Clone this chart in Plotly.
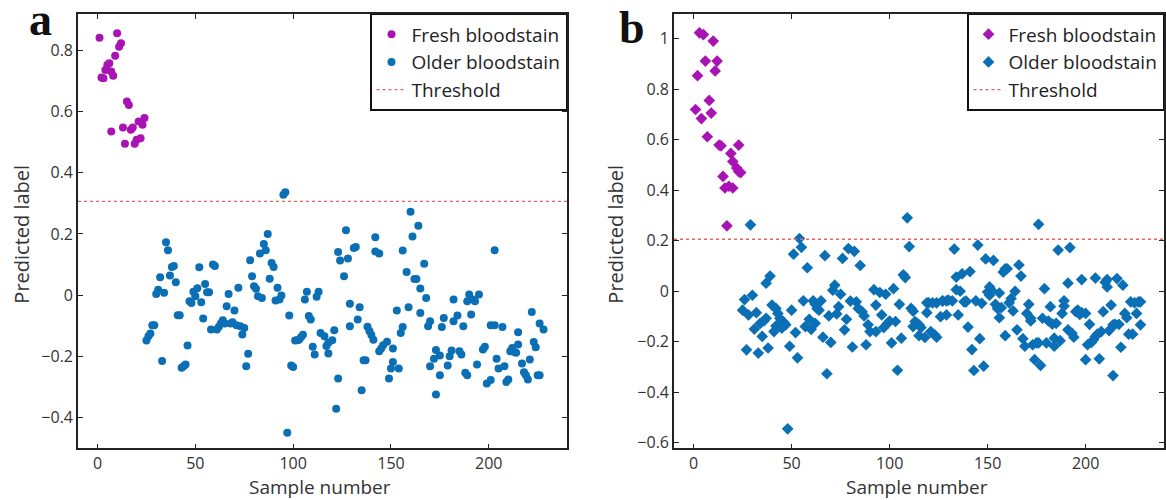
import plotly.graph_objects as go

# ---------------- Panel a data ----------------
fresh_a_x = [1, 2, 3, 4, 5, 6, 7, 7, 8, 9, 10, 11, 12, 13, 14, 15, 16, 17, 18, 19, 20, 21, 22, 23, 24]
fresh_a_y = [0.84, 0.71, 0.708, 0.735, 0.751, 0.757, 0.73, 0.534, 0.716, 0.781, 0.855, 0.811, 0.822,
             0.547, 0.494, 0.632, 0.621, 0.54, 0.547, 0.494, 0.507, 0.567, 0.512, 0.556, 0.578]

older_a_x = [25, 26, 27, 28, 29, 30, 31, 32, 33, 34, 35, 36, 37, 38, 39, 40, 41, 42, 43, 44, 45, 46, 47, 48,
             49, 50, 51, 52, 53, 54, 55, 56, 57, 58, 59, 60, 61, 62, 63, 64, 65, 66, 67, 68, 69, 70, 71, 72,
             73, 74, 75, 76, 77, 78, 79, 80, 81, 82, 83, 84, 85, 86, 87, 88, 89, 90, 91, 92, 93, 94, 95, 96,
             97, 98, 99, 100, 101, 102, 103, 104, 105, 106, 107, 108, 109, 110, 111, 112, 113, 114, 116, 117,
             118, 118, 120, 121, 122, 123, 123, 124, 126, 127, 128, 129, 129, 131, 132, 133, 134, 135, 136,
             137, 138, 139, 140, 141, 142, 142, 144, 144, 145, 146, 148, 149, 150, 151, 151, 153, 154, 155,
             156, 156, 158, 159, 160, 161, 162, 163, 164, 165, 165, 167, 168, 169, 170, 170, 172, 173, 173,
             175, 175, 176, 177, 179, 180, 181, 182, 182, 184, 185, 186, 187, 188, 189, 189, 190, 191, 192,
             193, 194, 195, 197, 198, 199, 201, 201, 203, 203, 204, 205, 207, 208, 209, 210, 211, 212, 213,
             214, 215, 215, 217, 218, 219, 220, 221, 222, 223, 224, 225, 226, 226, 228]
older_a_y = [-0.148, -0.134, -0.125, -0.098, -0.098, 0.004, 0.018, 0.059, -0.215, 0.008, 0.173, 0.147, 0.064,
             0.092, 0.095, 0.042, -0.065, -0.065, -0.237, -0.232, -0.226, -0.164, -0.02, -0.025, 0.011, -0.003,
             0.023, 0.091, -0.023, -0.076, 0.037, 0.01, 0.01, -0.112, 0.1, 0.095, -0.112, -0.103, -0.092, -0.082,
             -0.092, -0.036, 0.004, -0.092, -0.088, -0.05, -0.098, 0.024, -0.101, -0.128, -0.107, -0.232, -0.191,
             0.114, 0.062, 0.029, 0.021, -0.003, 0.136, -0.009, 0.167, 0.147, 0.2, 0.054, 0.105, 0.092, -0.017,
             0.024, -0.014, -0.001, 0.328, 0.336, -0.449, -0.066, -0.229, -0.234, -0.148, -0.147, -0.145, -0.137,
             -0.129, -0.014, 0.011, -0.068, -0.079, -0.168, -0.193, -0.005, 0.011, -0.123, -0.134, -0.166,
             -0.19, -0.155, -0.147, -0.114, -0.37, -0.272, 0.141, 0.113, 0.062, 0.212, 0.12, -0.101, -0.028,
             0.154, 0.157, -0.079, -0.039, -0.31, -0.212, -0.212, -0.103, -0.117, -0.13, -0.145, 0.189, 0.143,
             0.136, -0.183, -0.174, -0.163, -0.152, -0.272, -0.239, -0.174, -0.218, -0.05, -0.239, -0.123,
             -0.104, 0.146, 0.076, -0.039, 0.272, 0.192, 0.053, 0.053, 0.227, -0.058, 0.022, 0.103, -0.009,
             -0.101, -0.085, -0.232, -0.207, -0.179, -0.324, -0.261, -0.197, -0.104, -0.074, -0.229, -0.199,
             -0.18, -0.014, -0.085, -0.066, -0.183, -0.193, -0.101, -0.253, -0.261, -0.02, 0.002, -0.063,
             -0.014, -0.02, -0.226, 0.002, -0.177, -0.168, -0.288, -0.277, -0.098, -0.098, 0.147, -0.207,
             -0.239, -0.104, -0.232, -0.283, -0.275, -0.183, -0.172, -0.185, -0.188, -0.121, -0.161, -0.223,
             -0.251, -0.261, -0.275, -0.21, -0.055, -0.153, -0.17, -0.261, -0.261, -0.092, -0.112]
threshold_a = 0.306

# ---------------- Panel b data ----------------
fresh_b_x = [1, 2, 3, 4, 5, 6, 7, 8, 9, 10, 11, 12, 13, 14, 15, 16, 17, 18, 19, 20, 20, 22, 23, 23, 24]
fresh_b_y = [0.72, 0.854, 1.024, 0.684, 1.017, 0.912, 0.612, 0.756, 0.706, 0.991, 0.873, 0.912, 0.579,
             0.576, 0.455, 0.409, 0.259, 0.416, 0.546, 0.409, 0.514, 0.488, 0.579, 0.474, 0.47]

older_b_x = [25, 26, 27, 28, 29, 30, 31, 32, 33, 34, 35, 36, 37, 37, 38, 39, 40, 41, 42, 42, 43, 44, 44, 45,
             46, 47, 48, 49, 50, 51, 52, 53, 54, 55, 56, 57, 58, 59, 60, 61, 62, 62, 63, 64, 65, 66, 67, 68,
             69, 70, 71, 72, 73, 74, 75, 76, 77, 78, 79, 80, 81, 82, 83, 84, 85, 86, 87, 88, 89, 90, 92, 93,
             93, 95, 96, 97, 98, 99, 100, 101, 102, 103, 104, 105, 106, 107, 108, 109, 110, 111, 112, 112, 113,
             114, 115, 115, 116, 118, 119, 119, 120, 121, 122, 123, 124, 124, 126, 127, 127, 129, 129, 130, 132,
             133, 134, 134, 135, 136, 137, 138, 139, 139, 140, 141, 142, 143, 144, 145, 146, 147, 148, 149, 150,
             151, 151, 152, 153, 154, 155, 156, 156, 157, 158, 159, 159, 160, 161, 162, 163, 164, 165, 166, 167,
             168, 169, 170, 171, 172, 172, 173, 174, 175, 176, 176, 177, 178, 179, 180, 181, 182, 183, 184, 184,
             185, 186, 187, 188, 189, 189, 191, 191, 192, 193, 194, 195, 196, 197, 198, 198, 200, 200, 201, 202,
             203, 204, 205, 205, 206, 207, 208, 209, 210, 211, 211, 212, 213, 214, 214, 215, 216, 217, 218, 219,
             220, 221, 222, 223, 224, 225, 226, 227, 228, 228]
older_b_y = [-0.075, -0.033, -0.232, -0.094, 0.263, -0.016, -0.15, -0.085, -0.245, -0.127, -0.179, -0.117,
             -0.107, 0.032, -0.225, 0.06, -0.055, -0.16, -0.068, -0.138, -0.088, -0.127, -0.107, -0.146, -0.123,
             -0.133, -0.545, -0.218, -0.075, 0.147, -0.164, -0.264, 0.209, 0.174, -0.038, -0.14, 0.093, -0.111,
             -0.151, -0.038, -0.051, -0.127, -0.068, -0.075, -0.038, -0.182, 0.141, -0.327, -0.098, -0.203,
             0.004, 0.024, -0.09, -0.061, -0.012, 0.13, -0.153, -0.111, 0.169, -0.039, -0.221, 0.158, -0.042,
             -0.068, 0.102, -0.081, -0.098, -0.212, -0.133, -0.16, 0.006, -0.055, -0.16, -0.005, -0.094, -0.144,
             -0.012, -0.127, -0.118, -0.205, 0.01, -0.12, -0.313, -0.052, -0.186, 0.065, 0.054, 0.291, 0.177,
             -0.068, -0.079, -0.14, -0.12, -0.127, -0.176, -0.133, -0.144, -0.183, -0.046, -0.085, -0.046, -0.16,
             -0.046, -0.173, -0.182, -0.046, -0.101, -0.038, -0.039, -0.094, -0.038, -0.035, -0.038, 0.167,
             0.006, 0.056, -0.094, 0.0, 0.069, -0.042, -0.039, -0.042, -0.142, 0.078, -0.231, -0.314, -0.038,
             0.183, -0.188, -0.048, -0.297, 0.128, -0.003, -0.016, 0.017, 0.004, 0.122, -0.052, -0.068, -0.105,
             -0.007, -0.065, 0.076, 0.089, -0.176, 0.089, -0.046, -0.029, -0.078, 0.0, -0.153, 0.104, 0.06,
             -0.188, -0.218, -0.088, -0.052, -0.107, -0.118, -0.212, -0.271, -0.205, 0.265, -0.205, -0.294,
             -0.107, 0.01, -0.205, -0.118, -0.061, -0.13, -0.218, -0.186, -0.127, 0.163, -0.196, -0.088, -0.059,
             -0.038, 0.032, -0.153, 0.173, -0.166, -0.182, -0.081, -0.075, -0.092, -0.085, 0.046, -0.088,
             -0.271, -0.212, -0.131, -0.203, -0.192, -0.179, 0.052, -0.17, -0.268, -0.16, -0.081, 0.036, 0.017,
             0.046, -0.156, -0.055, -0.133, -0.334, -0.131, 0.05, -0.131, -0.222, 0.024, -0.088, -0.105, -0.17,
             -0.042, -0.17, -0.046, -0.088, -0.042, -0.133, -0.042]
threshold_b = 0.206

x_range = [-10, 240]
x_ticks = [0, 50, 100, 150, 200]
y_ticks_a = [-0.4, -0.2, 0, 0.2, 0.4, 0.6, 0.8]
y_ticks_b = [-0.6, -0.4, -0.2, 0, 0.2, 0.4, 0.6, 0.8, 1]
legend_names = ["Fresh bloodstain", "Older bloodstain", "Threshold"]

MAGENTA = "#a814b4"
BLUE = "#0b6fb6"
RED = "#e8625e"
FONT = "Open Sans"

fig = go.Figure()

# panel a
fig.add_trace(go.Scatter(x=fresh_a_x, y=fresh_a_y, mode="markers", name=legend_names[0],
                         marker=dict(color=MAGENTA, size=8, symbol="circle"),
                         xaxis="x", yaxis="y", legend="legend"))
fig.add_trace(go.Scatter(x=older_a_x, y=older_a_y, mode="markers", name=legend_names[1],
                         marker=dict(color=BLUE, size=8, symbol="circle"),
                         xaxis="x", yaxis="y", legend="legend"))
fig.add_trace(go.Scatter(x=x_range, y=[threshold_a, threshold_a], mode="lines", name=legend_names[2],
                         line=dict(color=RED, width=1.3, dash="dot"),
                         xaxis="x", yaxis="y", legend="legend"))
# panel b
fig.add_trace(go.Scatter(x=fresh_b_x, y=fresh_b_y, mode="markers", name=legend_names[0],
                         marker=dict(color=MAGENTA, size=9, symbol="diamond"),
                         xaxis="x2", yaxis="y2", legend="legend2"))
fig.add_trace(go.Scatter(x=older_b_x, y=older_b_y, mode="markers", name=legend_names[1],
                         marker=dict(color=BLUE, size=9, symbol="diamond"),
                         xaxis="x2", yaxis="y2", legend="legend2"))
fig.add_trace(go.Scatter(x=x_range, y=[threshold_b, threshold_b], mode="lines", name=legend_names[2],
                         line=dict(color=RED, width=1.3, dash="dot"),
                         xaxis="x2", yaxis="y2", legend="legend2"))

W, H = 1166, 500
def px_x(p):
    return p / W
def px_y(p):
    return 1 - p / H

axis_common = dict(showline=True, linecolor="#222", linewidth=1.6, mirror="ticks",
                   ticks="inside", ticklen=5, tickwidth=1.3, tickcolor="#222",
                   showgrid=False, zeroline=False,
                   tickfont=dict(family=FONT, size=16, color="#333"))

legend_common = dict(xanchor="right", yanchor="top", bgcolor="white", bordercolor="#111",
                     borderwidth=1.5, font=dict(family=FONT, size=19, color="#222"),
                     itemsizing="trace", tracegroupgap=0)

fig.update_layout(
    width=W, height=H,
    margin=dict(l=0, r=0, t=0, b=0),
    paper_bgcolor="white", plot_bgcolor="white",
    font=dict(family=FONT, color="#333"),
    xaxis=dict(domain=[px_x(78), px_x(567)], range=x_range, tickvals=x_ticks, anchor="y", **axis_common),
    yaxis=dict(domain=[px_y(453), px_y(14)], range=[-0.5, 0.918], tickvals=y_ticks_a, anchor="x", **axis_common),
    xaxis2=dict(domain=[px_x(674), px_x(1164)], range=x_range, tickvals=x_ticks, anchor="y2", **axis_common),
    yaxis2=dict(domain=[px_y(453), px_y(14)], range=[-0.623, 1.099], tickvals=y_ticks_b, anchor="x2", **axis_common),
    legend=dict(x=px_x(567), y=px_y(14), **legend_common),
    legend2=dict(x=px_x(1164), y=px_y(14), **legend_common),
    showlegend=True,
)

annotations = [
    dict(text="<b>a</b>", x=px_x(40), y=px_y(20), xref="paper", yref="paper", showarrow=False,
         font=dict(family="Liberation Serif", size=46, color="#111"), xanchor="center", yanchor="middle"),
    dict(text="<b>b</b>", x=px_x(632), y=px_y(28), xref="paper", yref="paper", showarrow=False,
         font=dict(family="Liberation Serif", size=46, color="#111"), xanchor="center", yanchor="middle"),
    dict(text="Sample number", x=px_x(320), y=px_y(492), xref="paper", yref="paper", showarrow=False,
         font=dict(family=FONT, size=19, color="#333"), xanchor="center", yanchor="middle"),
    dict(text="Sample number", x=px_x(917), y=px_y(492), xref="paper", yref="paper", showarrow=False,
         font=dict(family=FONT, size=19, color="#333"), xanchor="center", yanchor="middle"),
    dict(text="Predicted label", x=px_x(22), y=px_y(237), xref="paper", yref="paper", showarrow=False,
         textangle=-90, font=dict(family=FONT, size=20, color="#333"), xanchor="center", yanchor="middle"),
    dict(text="Predicted label", x=px_x(616), y=px_y(237), xref="paper", yref="paper", showarrow=False,
         textangle=-90, font=dict(family=FONT, size=20, color="#333"), xanchor="center", yanchor="middle"),
]
fig.update_layout(annotations=annotations)

fig.write_html("out.html")
